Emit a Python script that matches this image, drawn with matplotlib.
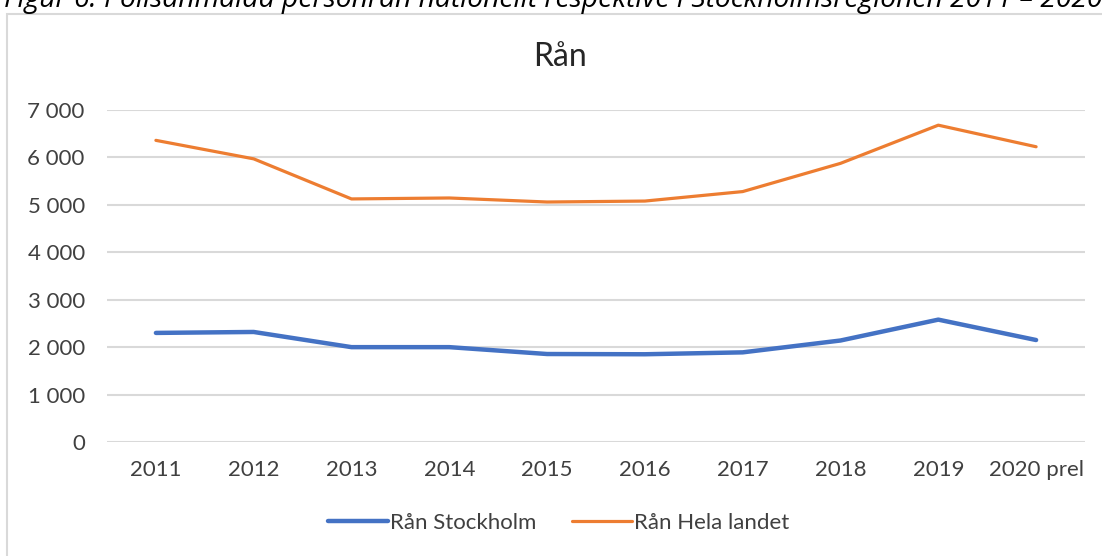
import matplotlib.pyplot as plt
from matplotlib.patches import Rectangle
from matplotlib.ticker import FuncFormatter

# data
years = ['2011', '2012', '2013', '2014', '2015', '2016', '2017', '2018', '2019', '2020 prel']
stockholm = [2300, 2320, 2000, 2000, 1855, 1850, 1890, 2140, 2580, 2150]
hela_landet = [6360, 5970, 5125, 5145, 5060, 5080, 5280, 5875, 6680, 6225]

plt.rcParams['font.family'] = ['Lato', 'DejaVu Sans']

fig = plt.figure(figsize=(11.02, 5.56), dpi=100)

# caption above the chart (cut at top in the original)
fig.text(0.004, 1.0 - 7 / 556, 'Figur 6. Polisanmälda personrån nationellt respektive i Stockholmsregionen 2011 – 2020',
         fontsize=20.3, style='italic', color='black', va='baseline', ha='left',
         family=['Open Sans', 'DejaVu Sans'])

# chart frame
fig.patches.append(Rectangle((7 / 1102, -0.05), 1.2, 1 - 14 / 556 + 0.05, transform=fig.transFigure,
                             fill=False, edgecolor='#d9d9d9', linewidth=1.5))

ax = fig.add_axes([107 / 1102, 1 - 442 / 556, (1085 - 107) / 1102, (442 - 110) / 556])
x = range(len(years))
ax.plot(x, stockholm, color='#4472c4', linewidth=3.2, solid_capstyle='round', label='Rån Stockholm')
ax.plot(x, hela_landet, color='#ed7d31', linewidth=2.3, solid_capstyle='round', label='Rån Hela landet')

ax.set_xlim(-0.5, len(years) - 0.5)
ax.set_ylim(0, 7000)
ax.set_yticks(range(0, 7001, 1000))
ax.yaxis.set_major_formatter(FuncFormatter(lambda v, p: f'{int(v):,}'.replace(',', ' ')))
ax.set_xticks(list(x))
ax.set_xticklabels(years)
ax.grid(axis='y', color='#d9d9d9', linewidth=1.5)
ax.set_axisbelow(True)
for s in ax.spines.values():
    s.set_visible(False)
ax.tick_params(length=0, labelsize=16, colors='#404040')
ax.tick_params(axis='x', pad=13)
ax.tick_params(axis='y', pad=16)

fig.text(0.508, 1 - 57 / 556, 'Rån', fontsize=23, color='#262626', ha='center', va='center')

fig.legend(loc='center', bbox_to_anchor=(0.507, 1 - 523 / 556), ncol=2, frameon=False,
           fontsize=16, labelcolor='#404040', handlelength=2.7, handletextpad=0.1, columnspacing=1.6)

plt.savefig('out.png', dpi=100)
